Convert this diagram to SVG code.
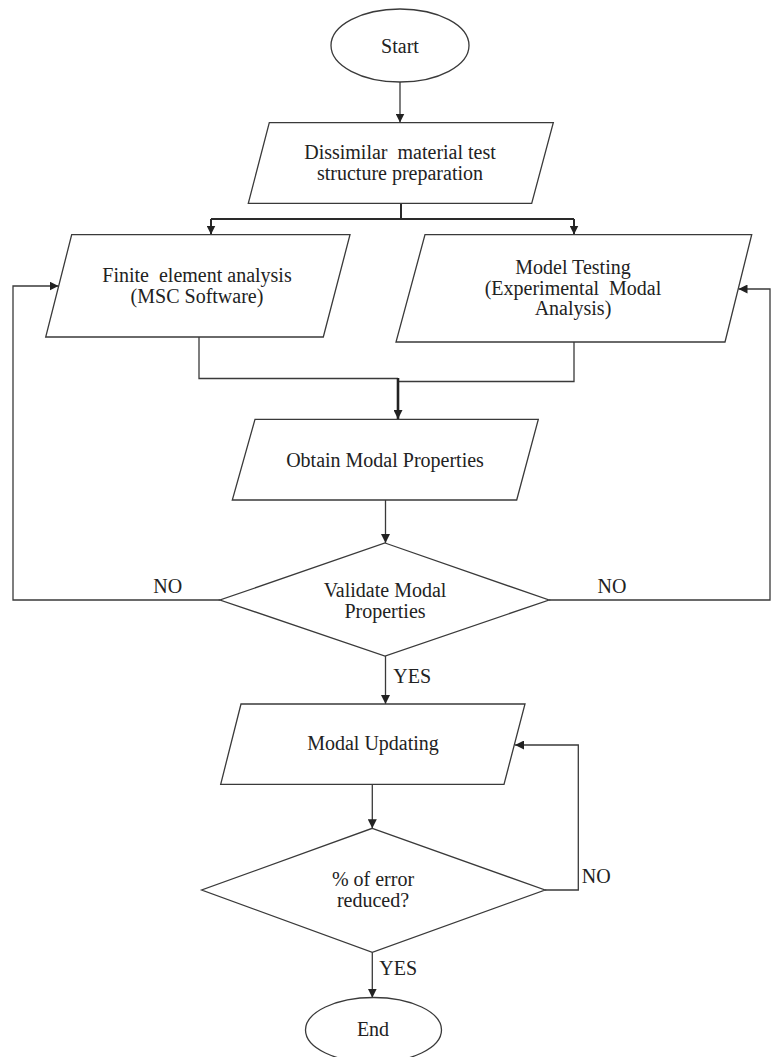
<svg xmlns="http://www.w3.org/2000/svg" width="771" height="1057" viewBox="0 0 771 1057">
<style>
.shape{fill:#fff;stroke:#3a3a3a;stroke-width:1.3}
.t{font-family:"Liberation Serif","Times New Roman",serif;font-size:20px;fill:#222;text-anchor:middle}
.ts{font-family:"Liberation Serif","Times New Roman",serif;font-size:20px;fill:#222;text-anchor:start}
.c{fill:none;stroke:#3a3a3a;stroke-width:1.3}
.thick{fill:none;stroke:#222;stroke-width:2.6}
.mid{fill:none;stroke:#2a2a2a;stroke-width:2}
</style>
<defs>
<marker id="ah" markerUnits="userSpaceOnUse" markerWidth="9" markerHeight="9" viewBox="0 0 10 10" refX="10" refY="5" orient="auto">
<path d="M0,0 L10,5 L0,10 z" fill="#222"/>
</marker>
</defs>
<rect width="771" height="1057" fill="#fff"/>
<g id="connectors">
<path class="c" d="M400,82 V122.5" marker-end="url(#ah)"/>
<path class="mid" d="M401,203.3 V219"/>
<path class="mid" d="M211,219 H574"/>
<path class="mid" d="M211,219 V234.5" marker-end="url(#ah)"/>
<path class="mid" d="M574,219 V234.5" marker-end="url(#ah)"/>
<path class="c" d="M199,337 V378.5 H398"/>
<path class="c" d="M574,342 V381.5 H398"/>
<path class="thick" d="M398,378 V419" marker-end="url(#ah)"/>
<path class="c" d="M385.5,500 V543" marker-end="url(#ah)"/>
<path class="c" d="M220,600 H13 V286 H58.5" marker-end="url(#ah)"/>
<path class="c" d="M549,600 H770 V289 H738.5" marker-end="url(#ah)"/>
<path class="c" d="M385.5,656 V704" marker-end="url(#ah)"/>
<path class="c" d="M372.3,784.3 V828.3" marker-end="url(#ah)"/>
<path class="c" d="M545,890 H578.3 V745 H515" marker-end="url(#ah)"/>
<path class="c" d="M372.3,952.3 V997.7" marker-end="url(#ah)"/>
<text class="t" x="167.7" y="592.7">NO</text>
<text class="t" x="612" y="592.7">NO</text>
<text class="ts" x="393.3" y="683.3">YES</text>
<text class="ts" x="581.7" y="883.3">NO</text>
<text class="ts" x="379.3" y="975">YES</text>
</g>
<g id="start">
<ellipse class="shape" cx="400" cy="45.5" rx="69" ry="36.5"/>
<text class="t" x="400" y="53">Start</text>
</g>
<g id="prep">
<polygon class="shape" points="269.3,122.7 553.3,122.7 531.7,203.3 248.3,203.3"/>
<text class="t" x="400" y="159" xml:space="preserve">Dissimilar  material test</text>
<text class="t" x="400" y="180">structure preparation</text>
</g>
<g id="fea">
<polygon class="shape" points="71.7,234.7 350,234.7 323.3,337 45.7,337"/>
<text class="t" x="197" y="282" xml:space="preserve">Finite  element analysis</text>
<text class="t" x="197" y="303">(MSC Software)</text>
</g>
<g id="ema">
<polygon class="shape" points="425,234.7 751.7,234.7 725,342 396,342"/>
<text class="t" x="573" y="274">Model Testing</text>
<text class="t" x="573" y="295" xml:space="preserve">(Experimental  Modal</text>
<text class="t" x="573" y="315">Analysis)</text>
</g>
<g id="obtain">
<polygon class="shape" points="255,419.3 538.3,419.3 516.7,500 232.3,500"/>
<text class="t" x="385" y="467">Obtain Modal Properties</text>
</g>
<g id="validate">
<polygon class="shape" points="385,543 549,600 385,656 220,600"/>
<text class="t" x="385" y="596.5">Validate Modal</text>
<text class="t" x="385" y="618">Properties</text>
</g>
<g id="update">
<polygon class="shape" points="241,704 525,704 504,784.3 220.7,784.3"/>
<text class="t" x="373" y="750">Modal Updating</text>
</g>
<g id="error">
<polygon class="shape" points="372.3,828.3 545,890 372.3,952.3 201.7,890"/>
<text class="t" x="373" y="885.7">% of error</text>
<text class="t" x="373" y="906.7">reduced?</text>
</g>
<g id="end">
<ellipse class="shape" cx="373.5" cy="1030" rx="68" ry="32.5"/>
<text class="t" x="373" y="1036">End</text>
</g>
</svg>
